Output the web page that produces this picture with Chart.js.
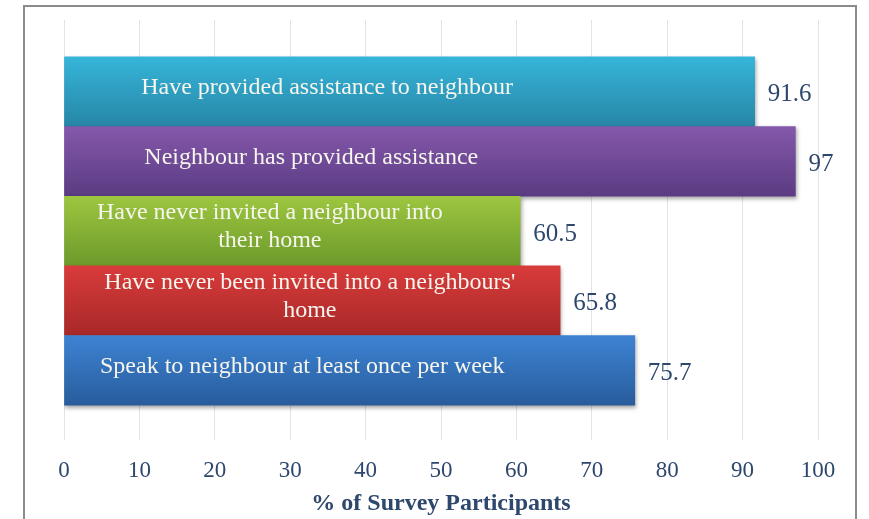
<!DOCTYPE html>
<html>
<head>
<meta charset="utf-8">
<script src="https://cdn.jsdelivr.net/npm/chart.js@4/dist/chart.umd.min.js"></script>
<style>
  html, body { margin: 0; padding: 0; background: #fff; }
  #wrap { position: relative; width: 869px; height: 519px; }
  #frame {
    position: absolute; left: 23px; top: 5px; width: 834px; height: 530px;
    border: 2px solid #8c8c8c; box-sizing: border-box; pointer-events: none;
  }
</style>
</head>
<body>
<div id="wrap">
  <canvas id="chart" width="869" height="519"></canvas>
  <div id="frame"></div>
</div>
<script>
// Данные графика
const categories = [
    'Have provided assistance to neighbour',
    'Neighbour has provided assistance',
    'Have never invited a neighbour into their home',
    "Have never been invited into a neighbours' home",
    'Speak to neighbour at least once per week'
];
// Переносы строк, как на картинке
const categoryLines = [
    ['Have provided assistance to neighbour'],
    ['Neighbour has provided assistance'],
    ['Have never invited a neighbour into', 'their home'],
    ["Have never been invited into a neighbours'", 'home'],
    ['Speak to neighbour at least once per week']
];
const values = [91.6, 97, 60.5, 65.8, 75.7];
const xTicks = [0, 10, 20, 30, 40, 50, 60, 70, 80, 90, 100];
const axisTitle = '% of Survey Participants';

// Центр подписи внутри полосы (в единицах оси X)
const labelCenters = [34.9, 32.8, 27.3, 32.6, 31.6];

// Цвета полос: верх / низ градиента
const barTop = ['#36b5d9', '#8458ab', '#9dc63f', '#d93b3b', '#3d83d3'];
const barBottom = ['#2686a6', '#5b3b82', '#6c9a2b', '#a82828', '#285c9c'];

const serif = '"Liberation Serif", "Times New Roman", serif';
const textBlue = '#2d476d';

// Градиент для каждой полосы
function barGradient(context) {
    const chart = context.chart;
    const { ctx, chartArea } = chart;
    const i = context.dataIndex;
    if (!chartArea || i === undefined) return barTop[0];
    const y = chart.scales.y;
    const top = y.getPixelForValue(i - 0.5);
    const bottom = y.getPixelForValue(i + 0.5);
    const g = ctx.createLinearGradient(0, top, 0, bottom);
    g.addColorStop(0, barTop[i]);
    g.addColorStop(1, barBottom[i]);
    return g;
}

// Тень под полосами
const shadowPlugin = {
    id: 'barShadow',
    beforeDatasetsDraw(chart) {
        const ctx = chart.ctx;
        ctx.save();
        ctx.shadowColor = 'rgba(0,0,0,0.35)';
        ctx.shadowBlur = 4;
        ctx.shadowOffsetX = 1;
        ctx.shadowOffsetY = 2;
    },
    afterDatasetsDraw(chart) {
        chart.ctx.restore();
    }
};

// Подписи внутри полос и значения справа
const labelsPlugin = {
    id: 'barLabels',
    afterDatasetsDraw(chart) {
        const ctx = chart.ctx;
        const xs = chart.scales.x;
        const ys = chart.scales.y;
        ctx.save();
        ctx.textBaseline = 'middle';
        categoryLines.forEach(function(lines, i) {
            const cx = xs.getPixelForValue(labelCenters[i]);
            const cy = ys.getPixelForValue(i) - 4;
            const lh = 28;
            const start = cy - (lines.length - 1) * lh / 2;
            ctx.font = '24px ' + serif;
            ctx.fillStyle = '#f6f5ee';
            ctx.textAlign = 'center';
            lines.forEach(function(line, k) {
                ctx.fillText(line, cx, start + k * lh);
            });
            ctx.font = '25px ' + serif;
            ctx.fillStyle = textBlue;
            ctx.textAlign = 'left';
            ctx.fillText(String(values[i]), xs.getPixelForValue(values[i]) + 13, ys.getPixelForValue(i) + 3);
        });
        ctx.restore();
    }
};

// Белый фон
const bgPlugin = {
    id: 'bg',
    beforeDraw(chart) {
        const ctx = chart.ctx;
        ctx.save();
        ctx.fillStyle = '#fff';
        ctx.fillRect(0, 0, chart.width, chart.height);
        ctx.restore();
    }
};

new Chart(document.getElementById('chart').getContext('2d'), {
    type: 'bar',
    data: {
        labels: categories,
        datasets: [{
            data: values.map((v, i) => ({ x: v, y: i })),
            backgroundColor: barGradient,
            borderWidth: 0,
            barPercentage: 1,
            categoryPercentage: 1
        }]
    },
    options: {
        indexAxis: 'y',
        responsive: false,
        animation: false,
        layout: { padding: { left: 64, right: 51, top: 20, bottom: 0 } },
        plugins: {
            legend: { display: false },
            tooltip: { enabled: false }
        },
        scales: {
            x: {
                type: 'linear',
                min: 0,
                max: 100,
                afterBuildTicks: function(scale) {
                    scale.ticks = xTicks.map(v => ({ value: v }));
                },
                afterFit: function(scale) { scale.height = 79; },
                grid: { color: '#dfe4ec', lineWidth: 1, drawTicks: false },
                border: { display: false },
                ticks: {
                    color: textBlue,
                    font: { family: serif, size: 23 },
                    padding: 17,
                    maxRotation: 0
                },
                title: {
                    display: true,
                    text: axisTitle,
                    color: textBlue,
                    font: { family: serif, size: 24, weight: 'bold' },
                    padding: { top: 0, bottom: 1 }
                }
            },
            y: {
                type: 'linear',
                reverse: true,
                min: -1.03,
                max: 5.0,
                display: false,
                afterBuildTicks: function(scale) { scale.ticks = []; }
            }
        }
    },
    plugins: [bgPlugin, shadowPlugin, labelsPlugin]
});
</script>
</body>
</html>
